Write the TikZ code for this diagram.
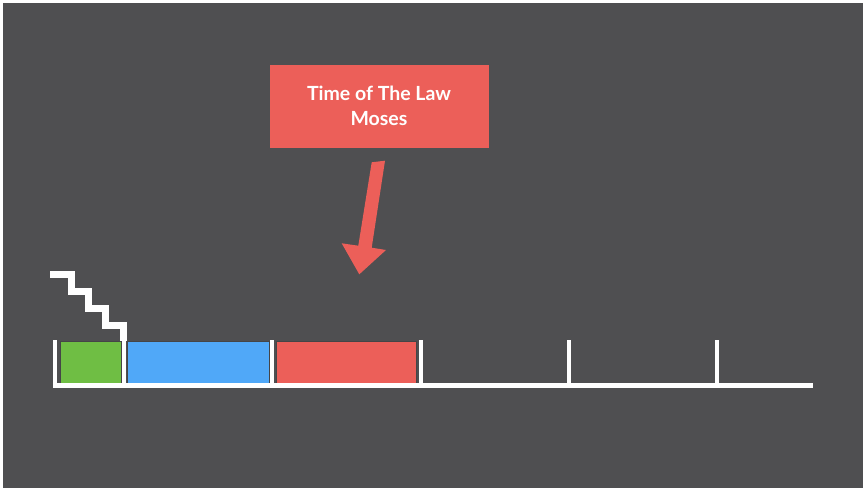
\documentclass[tikz,border=0pt]{standalone}
\usepackage{fontspec}
\setmainfont{Lato}
\definecolor{bg}{HTML}{4F4F51}
\definecolor{redbox}{HTML}{EC5F59}
\definecolor{greenbox}{HTML}{6FBE44}
\definecolor{bluebox}{HTML}{50A8F8}
\definecolor{edge}{HTML}{454547}
\begin{document}
\begin{tikzpicture}[x=1pt,y=-1pt,
  seg/.style={draw=edge,line width=1pt,inner sep=0pt,anchor=north west},
  axis/.style={draw=white,line width=4.5pt},
  stair/.style={draw=white,line width=7pt,line join=miter},
  label/.style={fill=redbox,text=white,inner sep=0pt,minimum width=219pt,minimum height=83pt,align=center,font=\fontsize{19.5}{25}\selectfont\bfseries}]
\useasboundingbox (0,0) rectangle (865,490);
\fill[white] (0,0) rectangle (865,490);
\fill[bg] (3,3) rectangle (863,488);
% colored segments
\node[seg,fill=greenbox,minimum width=60.5pt,minimum height=41.5pt] (g) at (60,341) {};
\node[seg,fill=bluebox,minimum width=141.5pt,minimum height=41.5pt] (b) at (127.3,341) {};
\node[seg,fill=redbox,minimum width=140pt,minimum height=41.5pt] (r) at (276,341) {};
% axis
\coordinate (a0) at (55,385.5);
\coordinate (a1) at (813,385.5);
\draw[axis] (52.75,385.5) -- (a1);
\draw[axis] (55,340) -- (55,387.75);
\foreach \x in {124,272,421,569,717}{\draw[axis] (\x,340) -- (\x,385.5);}
% staircase
\draw[stair] (50,274.5) -- (71,274.5) -- (71,291.5) -- (88.3,291.5) -- (88.3,308.5) -- (105.5,308.5) -- (105.5,325.5) -- (123.3,325.5) -- (123.3,341);
% label
\node[label] (lab) at (379,106) {Time of The Law\\Moses};
% arrow
\fill[redbox] (371.7,162.3) -- (385,160.7) -- (371.7,247.7) -- (386,250) -- (359.3,274.3) -- (341.7,243.3) -- (358.3,245.7) -- cycle;
\end{tikzpicture}
\end{document}
